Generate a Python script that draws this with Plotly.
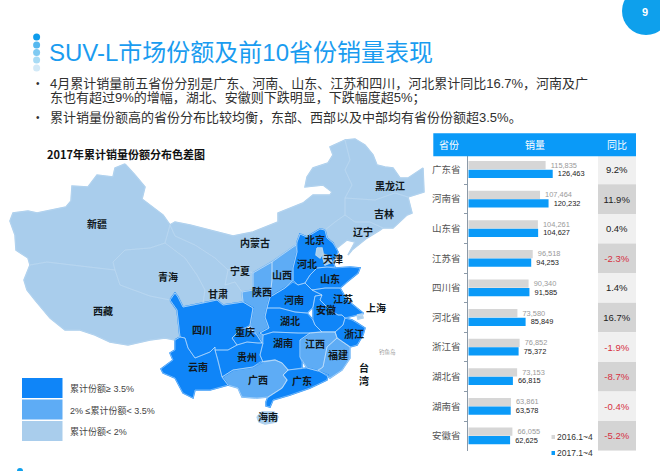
import plotly.graph_objects as go

# table data
provinces = ["广东省", "河南省", "山东省", "江苏省", "四川省", "河北省", "浙江省", "湖北省", "湖南省", "安徽省"]
sales_2016 = [115835, 107464, 104261, 96518, 90340, 73580, 76852, 73153, 63861, 66055]
sales_2017 = [126463, 120232, 104627, 94253, 91585, 85849, 75372, 66815, 63578, 62625]
yoy = ["9.2%", "11.9%", "0.4%", "-2.3%", "1.4%", "16.7%", "-1.9%", "-8.7%", "-0.4%", "-5.2%"]

title = "SUV-L市场份额及前10省份销量表现"
bullet_lines = [
    "4月累计销量前五省份分别是广东、河南、山东、江苏和四川，河北累计同比16.7%，河南及广",
    "东也有超过9%的增幅，湖北、安徽则下跌明显，下跌幅度超5%；",
    "累计销量份额高的省份分布比较均衡，东部、西部以及中部均有省份份额超3.5%。",
]

# map share classes
share_high = ["四川", "云南", "贵州", "重庆", "湖南", "湖北", "河南", "河北", "山东", "江苏", "安徽", "浙江", "广东"]
share_mid = ["山西", "陕西", "江西", "福建", "广西"]
share_low = ["新疆", "西藏", "青海", "甘肃", "宁夏", "内蒙古", "黑龙江", "吉林", "辽宁", "北京", "天津", "上海", "海南"]
legend_labels = ["累计份额≥ 3.5%", "2% ≤累计份额< 3.5%", "累计份额< 2%"]

# province outlines (map units = page pixels)
outlines = {
    "新疆": [(125,164),(115,168),(113,177),(97,175),(88,187),(72,186),(71,201),(66,207),(37,213),(28,211),(13,213),(10,221),(15,235),(16,250),(28,258),(30,265),(47,262),(80,266),(115,270),(113,262),(125,250),(150,248),(165,243),(170,225),(163,215),(142,199),(145,187),(135,175)],
    "西藏": [(30,265),(47,262),(80,266),(115,270),(120,285),(150,296),(170,300),(177,310),(180,337),(175,340),(165,338),(150,340),(128,345),(110,342),(95,335),(80,330),(65,330),(50,318),(35,300),(27,290),(24,280)],
    "青海": [(115,270),(113,262),(125,250),(150,248),(165,243),(185,258),(197,275),(205,290),(203,303),(193,305),(183,307),(178,297),(175,293),(170,300),(150,296),(120,285)],
    "甘肃": [(170,225),(165,243),(185,258),(197,275),(205,290),(203,303),(217,300),(223,305),(243,302),(242,292),(235,282),(225,285),(228,270),(215,258),(195,245),(175,236)],
    "宁夏": [(228,270),(240,268),(253,273),(253,290),(242,292),(235,282),(225,285)],
    "内蒙古": [(170,225),(175,222),(190,225),(210,230),(220,233),(233,236),(253,232),(278,222),(278,213),(285,210),(303,203),(313,195),(330,195),(332,192),(323,185),(305,187),(307,177),(313,168),(328,163),(333,155),(330,147),(345,140),(350,160),(345,170),(352,185),(345,198),(345,215),(335,222),(325,230),(320,229),(307,237),(300,234),(297,242),(296,245),(280,256),(272,262),(263,267),(253,273),(240,268),(228,270),(215,258),(195,245),(175,236)],
    "黑龙江": [(345,140),(355,139),(365,145),(373,155),(377,165),(385,167),(393,168),(400,178),(408,178),(423,168),(424,192),(415,195),(408,197),(395,193),(375,200),(345,198),(352,185),(345,170),(350,160)],
    "吉林": [(345,198),(375,200),(395,193),(408,197),(412,213),(407,215),(393,228),(383,228),(370,222),(355,222),(345,215)],
    "辽宁": [(345,215),(355,222),(370,222),(383,228),(380,230),(367,238),(352,250),(348,255),(355,242),(347,240),(337,248),(333,243),(327,238),(325,230),(335,222)],
    "山西": [(296,245),(280,256),(272,262),(272,280),(270,297),(285,288),(293,280),(293,268),(297,252)],
    "陕西": [(272,262),(263,267),(253,273),(253,290),(242,292),(243,302),(253,308),(250,325),(257,335),(262,343),(263,335),(260,333),(269,328),(265,317),(267,308),(270,297),(272,280)],
    "河北": [(297,242),(300,234),(307,237),(320,229),(325,230),(327,238),(333,243),(337,250),(338,252),(333,262),(335,267),(327,267),(317,268),(310,275),(305,283),(298,285),(293,280),(293,268),(297,252)],
    "北京": [(317,248),(322,248),(323,253),(320,258),(316,255)],
    "天津": [(323,254),(329,256),(332,262),(325,265),(323,258)],
    "山东": [(335,268),(350,267),(360,268),(358,273),(347,282),(340,288),(325,288),(312,290),(305,283),(310,275),(317,268),(327,267)],
    "河南": [(270,297),(285,288),(293,282),(298,285),(305,283),(312,290),(322,295),(315,296),(313,307),(307,313),(295,312),(280,308),(267,308)],
    "江苏": [(325,288),(340,288),(347,300),(360,310),(363,313),(362,316),(357,315),(345,318),(342,315),(338,315),(330,310),(320,300),(322,295),(312,290)],
    "上海": [(357,315),(362,314),(363,318),(358,319)],
    "安徽": [(322,295),(320,300),(330,310),(338,315),(342,315),(345,318),(343,325),(335,332),(322,332),(315,325),(313,320),(313,307),(315,296)],
    "湖北": [(267,308),(280,308),(295,312),(307,313),(313,320),(315,325),(322,332),(310,333),(298,333),(273,332),(263,335),(260,333),(269,328),(265,317)],
    "浙江": [(345,318),(343,325),(335,332),(337,338),(350,347),(357,345),(363,335),(365,328),(357,323),(352,320)],
    "福建": [(337,338),(327,347),(323,367),(318,370),(330,378),(342,370),(350,358),(350,347)],
    "江西": [(300,340),(310,333),(322,332),(335,332),(337,338),(327,347),(323,367),(318,371),(307,368),(300,357),(300,347)],
    "湖南": [(263,335),(273,332),(298,333),(310,333),(300,340),(300,357),(302,362),(302,368),(288,370),(282,363),(275,360),(263,362),(260,355),(263,343)],
    "广东": [(288,370),(302,368),(307,368),(318,371),(328,375),(327,380),(310,388),(290,395),(273,400),(270,407),(266,406),(266,402),(268,397),(282,388),(287,380),(283,375)],
    "广西": [(222,377),(233,370),(253,367),(260,362),(275,360),(282,363),(288,370),(283,375),(287,380),(282,388),(268,397),(257,398),(242,397),(238,388),(228,385)],
    "贵州": [(215,350),(228,350),(237,345),(247,342),(258,343),(263,343),(260,355),(263,362),(253,367),(233,370),(222,377),(218,360)],
    "重庆": [(232,338),(240,330),(245,328),(257,335),(262,343),(258,343),(247,342),(237,345)],
    "四川": [(170,300),(175,293),(178,297),(183,307),(193,305),(203,303),(217,300),(223,305),(243,302),(253,308),(250,325),(245,328),(240,330),(232,338),(237,345),(228,350),(215,350),(215,347),(210,352),(195,358),(188,348),(185,338),(180,337),(177,310)],
    "云南": [(175,340),(180,337),(185,338),(188,348),(195,358),(210,352),(215,347),(215,350),(218,360),(222,377),(228,385),(210,390),(195,390),(193,398),(183,393),(175,378),(163,373),(161,369),(173,360),(170,353),(175,350)],
    "海南": [(257,417),(262,412),(274,412),(278,417),(276,422),(265,424),(259,422)],
}

# province name anchors on the map
label_names = ["新疆", "青海", "西藏", "内蒙古", "黑龙江", "吉林", "辽宁", "北京", "天津", "河北", "山西", "宁夏", "甘肃", "陕西", "山东", "河南", "江苏", "上海", "安徽", "四川", "重庆", "湖北", "浙江", "湖南", "江西", "福建", "贵州", "云南", "广西", "广东", "海南", "台<br>湾"]
label_x = [97, 168, 103, 255, 390, 384, 363, 315, 333, 307, 282, 240, 218, 262, 330, 294, 343, 376, 326, 202, 245, 290, 354, 283, 315, 338, 247, 198, 258, 302, 268, 364]
label_y = [225, 278, 312, 244, 187, 215, 233, 241, 260, 265, 276, 272, 295, 293, 280, 301, 300, 309, 311, 331, 333, 322, 335, 344, 345, 356, 358, 368, 381, 382, 418, 376]

DARK = "#0f85f8"
MID = "#5eacf5"
LIGHT = "#a9cdec"
BLUE = "#0a9af8"
CJK = "Liberation Sans, Noto Sans CJK SC"

fig = go.Figure()

# bars
fig.add_trace(go.Bar(y=provinces, x=sales_2016, orientation="h", name="2016.1~4",
                     marker=dict(color="#d6d6d6", line_width=0), texttemplate="\u00a0%{x:,}",
                     textposition="outside", textfont=dict(size=9, color="#9a9a9a", family=CJK),
                     cliponaxis=False, xaxis="x", yaxis="y"))
fig.add_trace(go.Bar(y=provinces, x=sales_2017, orientation="h", name="2017.1~4",
                     marker=dict(color=BLUE, line_width=0), texttemplate="\u00a0%{x:,}",
                     textposition="outside", textfont=dict(size=9, color="#222222", family=CJK),
                     cliponaxis=False, xaxis="x", yaxis="y"))

# yoy column
fig.add_trace(go.Bar(y=provinces, x=[1] * len(provinces), width=1, orientation="h",
                     marker=dict(color=["#f0f0f0" if i % 2 == 0 else "#d4d4d4" for i in range(len(yoy))], line_width=0),
                     text=yoy, textposition="inside", insidetextanchor="middle", constraintext="none",
                     textfont=dict(size=9.5, family=CJK, color=["#d6303f" if v.startswith("-") else "#222222" for v in yoy]),
                     xaxis="x2", yaxis="y2"))


def fill_color(name):
    return DARK if name in share_high else MID if name in share_mid else LIGHT


# provinces: a first pass closes the slivers between neighbours, the second draws the borders
for name, pts in outlines.items():
    fig.add_trace(go.Scatter(x=[p[0] for p in pts] + [pts[0][0]], y=[p[1] for p in pts] + [pts[0][1]],
                             mode="lines", fill="toself", fillcolor=fill_color(name),
                             line=dict(color=fill_color(name), width=1.5),
                             hoverinfo="skip", xaxis="x3", yaxis="y3"))
for name, pts in outlines.items():
    edge = "#cfe6fc" if name in share_high else "#d5e8fa" if name in share_mid else "#bdd8f0"
    fig.add_trace(go.Scatter(x=[p[0] for p in pts] + [pts[0][0]], y=[p[1] for p in pts] + [pts[0][1]],
                             mode="lines", line=dict(color=edge, width=0.5),
                             hoverinfo="skip", xaxis="x3", yaxis="y3"))

fig.add_trace(go.Scatter(x=label_x, y=label_y, mode="text", text=[f"<b>{n}</b>" for n in label_names],
                         textfont=dict(size=10, color="#101820", family="Noto Sans CJK SC"),
                         hoverinfo="skip", xaxis="x3", yaxis="y3"))

# title dots
fig.add_trace(go.Scatter(x=[36.6] * 5, y=[37, 45, 52.5, 60, 68], mode="markers",
                         marker=dict(size=7, color=["#0d9cec", "#55b8ef", "#7fcaf2", "#a8dbf5", "#d2e9f7"]),
                         hoverinfo="skip", xaxis="x3", yaxis="y3"))

shapes = [
    dict(type="circle", xref="x3", yref="y3", x0=622, x1=670, y0=-13, y1=35, fillcolor="#0ea0ec", line_width=0),
    dict(type="rect", xref="x3", yref="y3", x0=433.3, x1=636, y0=133.3, y1=156.3, fillcolor=BLUE, line_width=0, layer="above"),
    dict(type="circle", xref="x3", yref="y3", x0=17, x1=23, y0=468, y1=474, fillcolor="#0ea0ec", line_width=0),
]
annotations = []


def add_text(x, y, text, size, color, anchor="left", family=CJK):
    annotations.append(dict(x=x, y=y, xref="x3", yref="y3", text=text, showarrow=False, xanchor=anchor,
                            yanchor="middle", font=dict(size=size, color=color, family=family)))


add_text(645, 12, "<b>9</b>", 11, "white", "center")
add_text(47, 52.5, title, 24, "#1a9cf0")
for line, y in zip(bullet_lines, [83, 98, 117]):
    add_text(48, y, line, 13, "#303030")
for y in [83, 117]:
    add_text(34, y, "•", 10, "#303030")
add_text(45, 154, "<b>2017年累计销量份额分布色差图</b>", 11, "#111111", family="Noto Sans CJK SC")
add_text(387, 352, "钓鱼岛", 5.5, "#9a9a9a", "center")
add_text(449, 145, "省份", 10, "white", "center")
add_text(535, 145, "销量", 10, "white", "center")
add_text(617, 145, "同比", 10, "white", "center")

# map legend
for label, color, y0 in zip(legend_labels, [DARK, MID, LIGHT], [378, 399.5, 421]):
    shapes.append(dict(type="rect", xref="x3", yref="y3", x0=22, x1=62.5, y0=y0, y1=y0 + 20, fillcolor=color, line_width=0))
    add_text(68, y0 + 10.5, label, 9, "#444444")

# bar legend
for label, color, y in zip(["2016.1~4", "2017.1~4"], ["#d6d6d6", BLUE], [437, 453]):
    shapes.append(dict(type="rect", xref="x3", yref="y3", x0=551.5, x1=555, y0=y - 2, y1=y + 2, fillcolor=color, line_width=0))
    add_text(555, y, label, 8.5, "#333333")

top = 1 - 154.7 / 471
bottom = 1 - 450.7 / 471
fig.update_layout(
    width=660, height=471, margin=dict(l=0, r=0, t=0, b=0),
    paper_bgcolor="white", plot_bgcolor="rgba(0,0,0,0)", showlegend=False,
    barmode="group", bargap=0.42, bargroupgap=0.04,
    shapes=shapes, annotations=annotations,
    xaxis=dict(domain=[468.3 / 660, 598 / 660], range=[0, 194300], visible=False),
    yaxis=dict(domain=[bottom, top], autorange="reversed", type="category", categoryorder="array",
               categoryarray=provinces, showline=True, linecolor="#8c9aa8", linewidth=1, ticks="outside",
               tickson="boundaries", ticklen=3, tickcolor="#8c9aa8", showgrid=False,
               tickfont=dict(size=9.5, color="#555555", family="Noto Sans CJK SC"), ticklabelstandoff=5),
    xaxis2=dict(domain=[598 / 660, 636 / 660], range=[0, 1], visible=False),
    yaxis2=dict(domain=[bottom, top], autorange="reversed", type="category", categoryorder="array",
                categoryarray=provinces, visible=False, anchor="x2"),
    xaxis3=dict(domain=[0, 1], range=[0, 660], visible=False, fixedrange=True),
    yaxis3=dict(domain=[0, 1], range=[471, 0], visible=False, fixedrange=True),
    font=dict(family=CJK),
)

fig.write_html("out.html", config=dict(displayModeBar=False),
               post_script="document.body.style.margin='0';document.body.style.overflow='hidden';")
